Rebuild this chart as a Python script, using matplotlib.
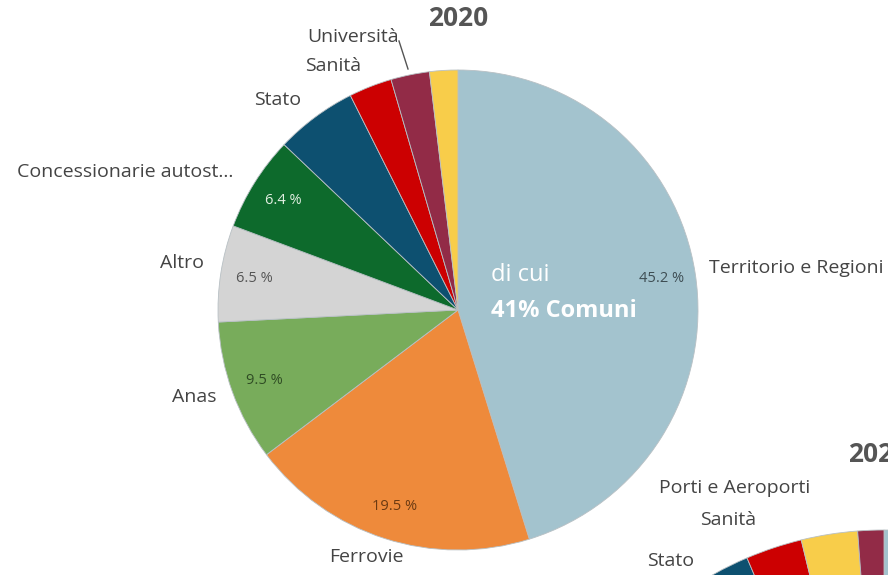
import matplotlib.pyplot as plt

# 2020 pie, clockwise from the top
labels_2020 = ["Territorio e Regioni", "Ferrovie", "Anas", "Altro",
               "Concessionarie autost...", "Stato", "Sanità", "Università",
               "Porti e Aeroporti"]
values_2020 = [45.2, 19.5, 9.5, 6.5, 6.4, 5.5, 2.9, 2.6, 1.9]

# 2021 pie (only its upper-left corner shows in the picture)
labels_2021 = ["Territorio e Regioni", "Ferrovie", "Anas", "Altro",
               "Concessionarie autost...", "Stato", "Sanità",
               "Porti e Aeroporti", "Università"]
values_2021 = [46.0, 20.0, 9.0, 6.0, 6.0, 6.6, 2.6, 2.6, 1.2]

colors = {
    "Territorio e Regioni": "#a3c3ce",
    "Ferrovie": "#ee8a3b",
    "Anas": "#78ac5b",
    "Altro": "#d4d4d4",
    "Concessionarie autost...": "#0d6a2c",
    "Stato": "#0d5070",
    "Sanità": "#cc0001",
    "Università": "#922b47",
    "Porti e Aeroporti": "#f8cd4a",
}
pct_colors = {
    "Territorio e Regioni": "#3e4d53",
    "Ferrovie": "#6b3a12",
    "Anas": "#2f4c24",
    "Altro": "#555555",
    "Concessionarie autost...": "#e2efe2",
}

W, H = 888, 575
LABEL_FONT = "Open Sans"


def px(x, y):
    # picture pixels (y down) -> data coordinates (y up)
    return x, H - y


fig = plt.figure(figsize=(8.88, 5.75), dpi=100)
ax = fig.add_axes([0, 0, 1, 1])

wedges, _, autotexts = ax.pie(
    values_2020,
    colors=[colors[l] for l in labels_2020],
    startangle=90, counterclock=False,
    center=px(458, 310), radius=240,
    autopct=lambda p: f"{p:.1f} %" if p > 6 else "",
    pctdistance=0.86,
    wedgeprops=dict(edgecolor="#b8c0c4", linewidth=0.6),
)
for lab, t in zip(labels_2020, autotexts):
    t.set_color(pct_colors.get(lab, "#333333"))
    t.set_fontsize(10.5)
    t.set_family(LABEL_FONT)

ax.pie(
    values_2021,
    colors=[colors[l] for l in labels_2021],
    startangle=90, counterclock=False,
    center=px(884, 880), radius=350,
    wedgeprops=dict(edgecolor="#b8c0c4", linewidth=0.6),
)

ax.set_xlim(0, W)
ax.set_ylim(0, H)
ax.set_aspect("auto")
ax.axis("off")

lab_style = dict(fontsize=14, color="#444444", family=LABEL_FONT, va="center")
ax.text(*px(709, 268), "Territorio e Regioni", ha="left", **lab_style)
ax.text(*px(366, 557), "Ferrovie", ha="center", **lab_style)
ax.text(*px(216, 397), "Anas", ha="right", **lab_style)
ax.text(*px(204, 263), "Altro", ha="right", **lab_style)
ax.text(*px(233, 172), "Concessionarie autost...", ha="right", **lab_style)
ax.text(*px(301, 100), "Stato", ha="right", **lab_style)
ax.text(*px(361, 66), "Sanità", ha="right", **lab_style)
ax.text(*px(399, 37), "Università", ha="right", **lab_style)
ax.plot([px(399, 41)[0], px(408, 69)[0]], [px(399, 41)[1], px(408, 69)[1]],
        color="#555555", lw=1)

ax.text(*px(458, 18), "2020", ha="center", va="center", fontsize=19,
        fontweight="bold", color="#555555", family=LABEL_FONT)

ax.text(*px(491, 275), "di cui", ha="left", va="center", fontsize=17,
        color="white", family=LABEL_FONT)
ax.text(*px(491, 311), "41% Comuni", ha="left", va="center", fontsize=17,
        fontweight="bold", color="white", family=LABEL_FONT)

# second chart, cut by the right and bottom edges
ax.text(*px(848, 455), "2021", ha="left", va="center", fontsize=19,
        fontweight="bold", color="#555555", family=LABEL_FONT)
ax.text(*px(810, 488), "Porti e Aeroporti", ha="right", **lab_style)
ax.text(*px(756, 520), "Sanità", ha="right", **lab_style)
ax.text(*px(694, 561), "Stato", ha="right", **lab_style)

fig.savefig("out.png", dpi=100)
